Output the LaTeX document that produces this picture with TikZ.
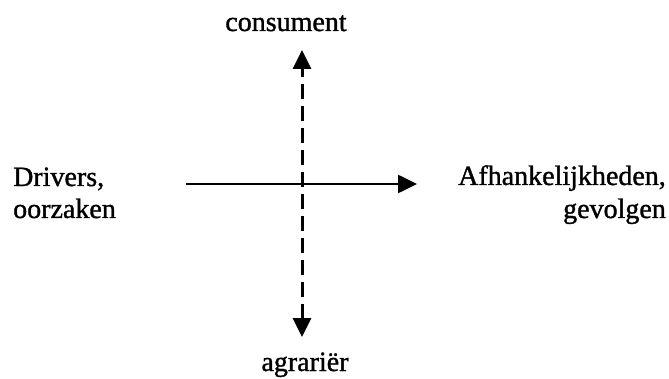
\documentclass[tikz,border=0pt]{standalone}
\usepackage{fontspec}
\setmainfont{Liberation Serif}
\newfontfamily\scanfont{Liberation Serif}[FakeBold=1.2]
\usetikzlibrary{arrows.meta}
\begin{document}
\begin{tikzpicture}[x=1pt,y=-1pt,
  lbl/.style={inner sep=0pt,font=\scanfont\fontsize{28}{32}\selectfont},
  axis/.style={line width=2.6pt,-{Triangle[length=19pt,width=18pt]}},
  daxis/.style={line width=3pt,dash pattern=on 15pt off 7pt,{Triangle[length=19pt,width=18pt]}-{Triangle[length=19pt,width=18pt]}}]
\useasboundingbox (0,0) rectangle (669,379);
\node[lbl,anchor=base] (cons) at (286,31) {consument};
\node[lbl,anchor=base] (agr) at (305,371) {agrariër};
\node[lbl,anchor=base west] (drv) at (13,186) {Drivers,};
\node[lbl,anchor=base west] (oorz) at (13,218) {oorzaken};
\node[lbl,anchor=base east] (afh) at (666,185) {Afhankelijkheden,};
\node[lbl,anchor=base east] (gev) at (666,218) {gevolgen};
\coordinate (hs) at (186,184);
\coordinate (he) at (417,184);
\coordinate (vt) at (302,50);
\coordinate (vb) at (302,337);
\draw[axis] (hs) -- (he);
\draw[daxis] (vb) -- (vt);
\end{tikzpicture}
\end{document}
